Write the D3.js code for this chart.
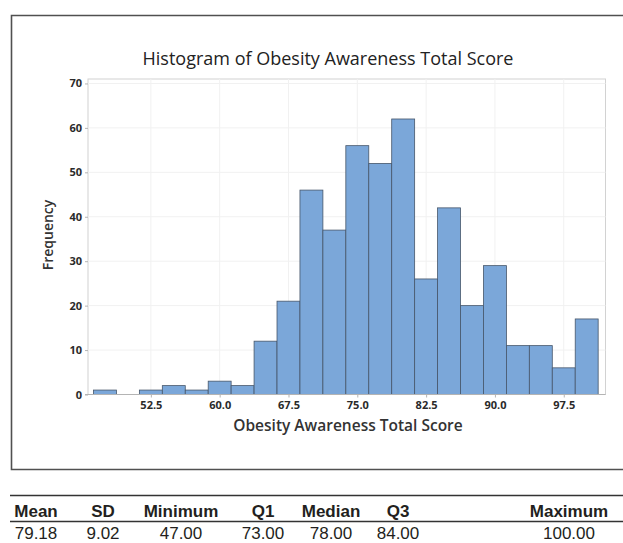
<!DOCTYPE html>
<html>
<head>
<meta charset="utf-8">
<script src="https://cdn.jsdelivr.net/npm/d3@7"></script>
<style>
	body { margin: 0; background: #fff; }
	svg { display: block; }
	.axis path, .axis line { stroke: #b4b4b4; }
	.axis text { font-family: 'Open Sans', sans-serif; font-weight: 700; font-size: 11px; fill: #2a2a2a; }
	.grid line { stroke: #f1f1f1; }
</style>
</head>
<body>
<div id="chart"></div>
<script>
/* global d3 */

// bin midpoints (width 2.5) and their counts
var binMids = [47.5, 50, 52.5, 55, 57.5, 60, 62.5, 65, 67.5, 70, 72.5, 75, 77.5, 80, 82.5, 85, 87.5, 90, 92.5, 95, 97.5, 100];
var counts = [1, 0, 1, 2, 1, 3, 2, 12, 21, 46, 37, 56, 52, 62, 26, 42, 20, 29, 11, 11, 6, 17];
var binWidth = 2.5;

var xTicks = [52.5, 60, 67.5, 75, 82.5, 90, 97.5];
var yTicks = [0, 10, 20, 30, 40, 50, 60, 70];

var statHeaders = ['Mean', 'SD', 'Minimum', 'Q1', 'Median', 'Q3', 'Maximum'];
var statValues = ['79.18', '9.02', '47.00', '73.00', '78.00', '84.00', '100.00'];

(function () {
	'use strict';

	function Histogram (el) {
		this.svg 	= d3.select(el).append('svg').attr('width', 623).attr('height', 543);
		this.scales = this.setScales();

		this.drawFrame();
		this.drawGrid();
		this.drawBars();
		this.drawAxes();
		this.drawLabels();
		this.drawTable();
	}

	Histogram.prototype = {
		plot: {left: 88, right: 605.5, top: 79, bottom: 394.5},

		setScales: function () {
			return {
				x: d3.scaleLinear().domain([45.65, 102.05]).range([this.plot.left, this.plot.right]),
				y: d3.scaleLinear().domain([0, 71]).range([this.plot.bottom, this.plot.top])
			};
		},

		drawFrame: function () {
			this.svg.append('path')
				.attr('d', 'M623,15.5 H11.5 V469.5 H623')
				.attr('fill', 'none')
				.attr('stroke', '#505050')
				.attr('stroke-width', 1.6);

			this.svg.append('rect')
				.attr('x', this.plot.left)
				.attr('y', this.plot.top)
				.attr('width', this.plot.right - this.plot.left)
				.attr('height', this.plot.bottom - this.plot.top)
				.attr('fill', '#fff')
				.attr('stroke', '#d2d2d2');
		},

		drawGrid: function () {
			var s = this.scales, p = this.plot;
			var g = this.svg.append('g').attr('class', 'grid');
			g.selectAll('.vx').data(xTicks).enter().append('line')
				.attr('x1', function (d) { return s.x(d); })
				.attr('x2', function (d) { return s.x(d); })
				.attr('y1', p.top).attr('y2', p.bottom);
			g.selectAll('.hy').data(yTicks.slice(1)).enter().append('line')
				.attr('y1', function (d) { return s.y(d); })
				.attr('y2', function (d) { return s.y(d); })
				.attr('x1', p.left).attr('x2', p.right);
		},

		drawBars: function () {
			var s = this.scales;
			this.svg.append('g').selectAll('rect')
				.data(binMids.map(function (m, i) { return {mid: m, n: counts[i]}; }).filter(function (d) { return d.n > 0; }))
				.enter().append('rect')
					.attr('x', function (d) { return s.x(d.mid - binWidth / 2); })
					.attr('width', function (d) { return s.x(d.mid + binWidth / 2) - s.x(d.mid - binWidth / 2); })
					.attr('y', function (d) { return s.y(d.n); })
					.attr('height', function (d) { return s.y(0) - s.y(d.n); })
					.attr('fill', '#7ba7d9')
					.attr('stroke', '#46566a')
					.attr('stroke-width', 0.8);
		},

		drawAxes: function () {
			var s = this.scales;
			this.svg.append('g')
				.attr('class', 'axis axis--x')
				.attr('transform', 'translate(0,' + this.plot.bottom + ')')
				.call(d3.axisBottom(s.x).tickValues(xTicks).tickFormat(d3.format('.1f')).tickSize(3).tickSizeOuter(0))
				.call(function (g) { g.select('.domain').remove(); })
				.selectAll('text').attr('y', 5).attr('dy', '0.85em');

			this.svg.append('line')
				.attr('x1', this.plot.left - 3).attr('x2', this.plot.right)
				.attr('y1', this.plot.bottom).attr('y2', this.plot.bottom)
				.attr('stroke', '#b4b4b4');

			this.svg.append('g')
				.attr('class', 'axis axis--y')
				.attr('transform', 'translate(' + this.plot.left + ',0)')
				.call(d3.axisLeft(s.y).tickValues(yTicks).tickSize(3).tickSizeOuter(0))
				.call(function (g) { g.select('.domain').remove(); })
				.selectAll('text').attr('x', -6);
		},

		drawLabels: function () {
			this.svg.append('text')
				.attr('x', 328).attr('y', 65)
				.attr('text-anchor', 'middle')
				.style('font-family', "'Open Sans', sans-serif")
				.style('font-size', '18px')
				.style('fill', '#222')
				.text('Histogram of Obesity Awareness Total Score');

			this.svg.append('text')
				.attr('x', 348).attr('y', 430.5)
				.attr('text-anchor', 'middle')
				.style('font-family', "'Open Sans', sans-serif")
				.style('font-weight', 600)
				.style('font-size', '15.5px')
				.style('fill', '#333')
				.text('Obesity Awareness Total Score');

			this.svg.append('text')
				.attr('transform', 'translate(53,235) rotate(-90)')
				.attr('text-anchor', 'middle')
				.style('font-family', "'Open Sans', sans-serif")
				.style('font-weight', 600)
				.style('font-size', '14px')
				.style('fill', '#333')
				.text('Frequency');
		},

		drawTable: function () {
			var col = d3.scaleOrdinal()
				.domain(statHeaders)
				.range([36, 103, 181, 263, 331, 398, 569]);

			var t = this.svg.append('g').style('font-family', "'Liberation Sans', Arial, sans-serif");

			[495.5, 521.5].forEach(function (y) {
				t.append('line')
					.attr('x1', 10).attr('x2', 623)
					.attr('y1', y).attr('y2', y)
					.attr('stroke', '#333').attr('stroke-width', 1.5);
			});

			t.selectAll('.hd').data(statHeaders).enter().append('text')
				.attr('x', function (d) { return col(d); })
				.attr('y', 516.5)
				.attr('text-anchor', 'middle')
				.style('font-weight', 700)
				.style('font-size', '17px')
				.style('fill', '#231f20')
				.text(function (d) { return d; });

			t.selectAll('.val').data(statValues).enter().append('text')
				.attr('x', function (d, i) { return col(statHeaders[i]); })
				.attr('y', 539)
				.attr('text-anchor', 'middle')
				.style('font-size', '17px')
				.style('fill', '#231f20')
				.text(function (d) { return d; });
		}
	};

	return new Histogram('#chart');
})();
</script>
</body>
</html>
